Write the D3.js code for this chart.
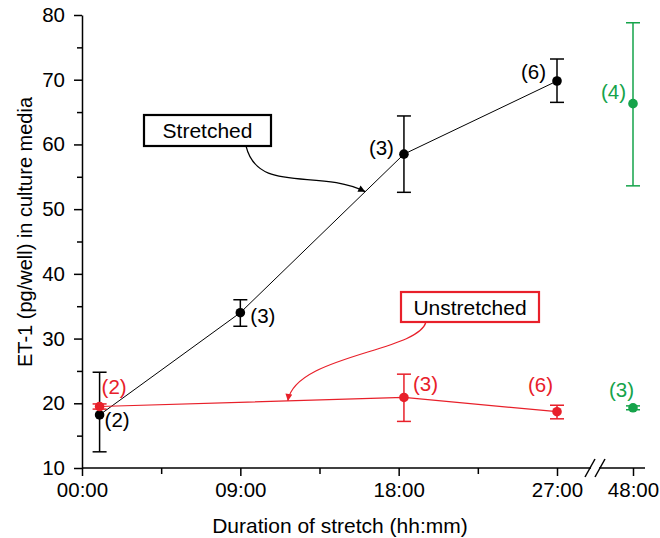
<!DOCTYPE html>
<html>
<head>
<meta charset="utf-8">
<script src="https://cdn.jsdelivr.net/npm/d3@7"></script>
<style>
  body { margin: 0; background: #fff; }
  text { font-family: "Liberation Sans", Arial, Helvetica, sans-serif; }
</style>
</head>
<body>
<div id="chart"></div>
<script>
// stretched cells (black, connected)
const stretchedHours = [1, 9, 18.3, 27];
const stretchedMean = [18.2, 34.0, 58.5, 69.8];
const stretchedLow = [12.5, 31.9, 52.6, 66.5];
const stretchedHigh = [24.8, 36.0, 64.4, 73.2];
const stretchedN = [2, 3, 3, 6];

// unstretched cells (red, connected)
const unstretchedHours = [1, 18.3, 27];
const unstretchedMean = [19.5, 20.9, 18.7];
const unstretchedLow = [19.1, 17.2, 17.6];
const unstretchedHigh = [19.9, 24.5, 19.7];
const unstretchedN = [2, 3, 6];

// 48 h measurements (green, stretched then unstretched)
const lateHours = [48, 48];
const lateMean = [66.3, 19.3];
const lateLow = [53.6, 19.0];
const lateHigh = [78.8, 19.6];
const lateN = [4, 3];

const xMajorTicks = [0, 9, 18, 27, 48];
const xMinorTicks = [4.5, 13.5, 22.5];
const xTickLabels = ['00:00', '09:00', '18:00', '27:00', '48:00'];
const yMajorTicks = [10, 20, 30, 40, 50, 60, 70, 80];
const yMinorTicks = [15, 25, 35, 45, 55, 65, 75];

const RED = '#e8202a', GREEN = '#15a34a', BLACK = '#000';
const width = 660, height = 538;

const svg = d3.select('#chart').append('svg')
    .attr('width', width)
    .attr('height', height);

// broken axis: 0-27 h linear, then a jump to 48 h
const x = d3.scaleLinear().domain([0, 27, 48]).range([82, 557, 633]);
const y = d3.scaleLinear().domain([10, 80]).range([468, 15]);

// y axis
const yAxis = svg.append('g')
    .attr('transform', `translate(${x(0)},0)`)
    .call(d3.axisLeft(y).tickValues(yMajorTicks).tickSize(8).tickPadding(9).tickSizeOuter(0));
yAxis.append('g')
    .call(d3.axisLeft(y).tickValues(yMinorTicks).tickSize(5).tickFormat(''))
    .select('.domain').remove();

// x axis
const xAxis = svg.append('g')
    .attr('transform', `translate(0,${y(10)})`)
    .call(d3.axisBottom(x).tickValues(xMajorTicks).tickSize(8).tickPadding(6)
        .tickFormat((d, i) => xTickLabels[i]));
xAxis.select('.domain').remove();
xAxis.append('g')
    .call(d3.axisBottom(x).tickValues(xMinorTicks).tickSize(6).tickFormat(''))
    .select('.domain').remove();

const breakX = (x(27) + x(48)) / 2;
xAxis.append('line').attr('x1', x(0)).attr('x2', breakX - 4).attr('y1', 0).attr('y2', 0);
xAxis.append('line').attr('x1', breakX + 4).attr('x2', x(48) + 12).attr('y1', 0).attr('y2', 0);
[-5, 5].forEach(o => {
    xAxis.append('line')
        .attr('x1', breakX + o - 5).attr('y1', 9)
        .attr('x2', breakX + o + 5).attr('y2', -9);
});
xAxis.selectAll('line').attr('stroke', BLACK).attr('stroke-width', 1.5);

[yAxis, xAxis].forEach(a => {
    a.selectAll('.domain').attr('stroke-width', 1.5);
    a.selectAll('.tick line').attr('stroke-width', 1.5);
    a.selectAll('text').attr('font-size', 20.5).attr('fill', BLACK)
        .attr('font-family', '"Liberation Sans", Arial, sans-serif');
});

// axis titles
svg.append('text')
    .attr('x', 340).attr('y', 533)
    .attr('text-anchor', 'middle')
    .attr('font-size', 21)
    .text('Duration of stretch (hh:mm)');
svg.append('text')
    .attr('transform', 'translate(32,232) rotate(-90)')
    .attr('text-anchor', 'middle')
    .attr('font-size', 20)
    .text('ET-1 (pg/well) in culture media');

function rows(hours, mean, low, high, n) {
    return hours.map((h, i) => ({ h, m: mean[i], lo: low[i], hi: high[i], n: n[i] }));
}
const stretched = rows(stretchedHours, stretchedMean, stretchedLow, stretchedHigh, stretchedN);
const unstretched = rows(unstretchedHours, unstretchedMean, unstretchedLow, unstretchedHigh, unstretchedN);
const late = rows(lateHours, lateMean, lateLow, lateHigh, lateN);

const line = d3.line().x(d => x(d.h)).y(d => y(d.m));

function errorBars(data, color) {
    const g = svg.append('g').attr('stroke', color).attr('stroke-width', 1.5);
    data.forEach(d => {
        g.append('line').attr('x1', x(d.h)).attr('x2', x(d.h)).attr('y1', y(d.lo)).attr('y2', y(d.hi));
        [d.lo, d.hi].forEach(v => {
            g.append('line').attr('x1', x(d.h) - 7).attr('x2', x(d.h) + 7).attr('y1', y(v)).attr('y2', y(v));
        });
    });
}
function points(data, color) {
    svg.append('g').selectAll('circle')
        .data(data)
        .enter().append('circle')
        .attr('cx', d => x(d.h))
        .attr('cy', d => y(d.m))
        .attr('r', 4.8)
        .attr('fill', color);
}
// label placement per point: [dx, dy, anchor]
function counts(data, color, place) {
    svg.append('g').selectAll('text')
        .data(data)
        .enter().append('text')
        .attr('x', (d, i) => x(d.h) + place[i][0])
        .attr('y', (d, i) => y(d.m) + place[i][1])
        .attr('text-anchor', (d, i) => place[i][2])
        .attr('font-size', 20.5)
        .attr('fill', color)
        .text(d => `(${d.n})`);
}

errorBars(stretched, BLACK);
errorBars(unstretched, RED);
errorBars(late, GREEN);

svg.append('path').datum(stretched)
    .attr('d', line).attr('fill', 'none').attr('stroke', BLACK).attr('stroke-width', 1);
svg.append('path').datum(unstretched)
    .attr('d', line).attr('fill', 'none').attr('stroke', RED).attr('stroke-width', 1.2);

points(stretched, BLACK);
points(unstretched, RED);
points(late, GREEN);

counts(stretched, BLACK, [[5, 12, 'start'], [10, 10, 'start'], [-10, 1, 'end'], [-11, -2, 'end']]);
counts(unstretched, RED, [[2, -13, 'start'], [9, -6, 'start'], [-4, -20, 'end']]);
counts(late, GREEN, [[-7, -5, 'end'], [1, -11, 'end']]);

// callout boxes with curved arrows
const defs = svg.append('defs');
[['arrowBlack', BLACK], ['arrowRed', RED]].forEach(([id, c]) => {
    defs.append('marker')
        .attr('id', id)
        .attr('viewBox', '0 0 10 10')
        .attr('refX', 10).attr('refY', 5)
        .attr('markerWidth', 9).attr('markerHeight', 7)
        .attr('markerUnits', 'userSpaceOnUse')
        .attr('orient', 'auto')
        .append('path').attr('d', 'M0,0L10,5L0,10z').attr('fill', c);
});

function onLine(data, h) {
    const i = d3.bisector(d => d.h).right(data, h) - 1;
    const a = data[i], b = data[i + 1];
    const t = (h - a.h) / (b.h - a.h);
    return [x(h), y(a.m + t * (b.m - a.m))];
}

function callout(label, color, box, from, to, c1, c2, marker) {
    svg.append('rect')
        .attr('x', box[0]).attr('y', box[1])
        .attr('width', box[2]).attr('height', box[3])
        .attr('fill', '#fff').attr('stroke', color).attr('stroke-width', 2.2);
    svg.append('text')
        .attr('x', box[0] + box[2] / 2).attr('y', box[1] + box[3] / 2 + 7.5)
        .attr('text-anchor', 'middle')
        .attr('font-size', 21)
        .attr('fill', BLACK)
        .text(label);
    svg.append('path')
        .attr('d', `M${from[0]},${from[1]}C${c1[0]},${c1[1]} ${c2[0]},${c2[1]} ${to[0]},${to[1]}`)
        .attr('fill', 'none').attr('stroke', color).attr('stroke-width', 1.2)
        .attr('marker-end', `url(#${marker})`);
}

const sTip = onLine(stretched, 16.1);
callout('Stretched', BLACK, [144, 115, 127, 31], [246, 146], sTip, [258, 195], [318, 168], 'arrowBlack');
const uTip = onLine(unstretched, 11.7);
callout('Unstretched', RED, [401, 292, 138, 30], [426, 322], uTip, [418, 352], [295, 355], 'arrowRed');
</script>
</body>
</html>
